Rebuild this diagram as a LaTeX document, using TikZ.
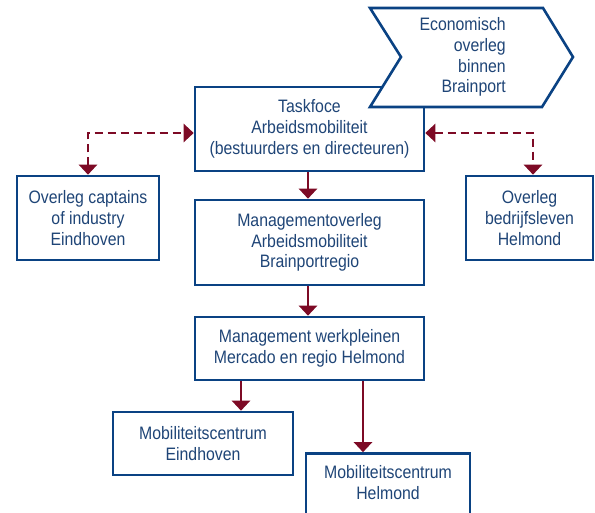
\documentclass[tikz,border=0pt]{standalone}
\usepackage{fontspec}
\setmainfont[FakeStretch=0.88]{Liberation Sans}
\usetikzlibrary{arrows.meta}
\definecolor{bblue}{HTML}{0A4283}
\definecolor{tblue}{HTML}{1F4577}
\definecolor{dred}{HTML}{7D0A25}
\begin{document}
\begin{tikzpicture}[x=1pt,y=-1pt,
  box/.style={draw=bblue,line width=2.6pt,fill=white,rectangle,inner sep=0pt,
    text=tblue,align=center,font=\fontsize{18pt}{20.7pt}\selectfont},
  txt/.style={text=tblue,align=center,inner sep=0pt,font=\fontsize{18pt}{20.7pt}\selectfont},
  arr/.style={draw=dred,line width=2.6pt,-{Triangle[width=18pt,length=10pt]}},
  darr/.style={draw=dred,line width=2.6pt,dash pattern=on 8pt off 5pt,
    {Triangle[width=18pt,length=10pt]}-{Triangle[width=18pt,length=10pt]}}]
\useasboundingbox (0,0) rectangle (595,513);
\node[box,minimum width=229pt,minimum height=84pt] (task) at (309.5,129)
  {Taskfoce\\Arbeidsmobiliteit\\(bestuurders en directeuren)};
\draw[draw=bblue,line width=2.6pt,fill=white,line join=miter]
  (370,8) -- (543,8) -- (573,57) -- (542,107) -- (370,107) -- (401,57) -- cycle;
\node[txt,align=right,anchor=east] (eco) at (506,57)
  {Economisch\\overleg\\binnen\\Brainport};
\node[box,minimum width=229pt,minimum height=85pt] (mgmt) at (309.5,242.5)
  {Managementoverleg\\Arbeidsmobiliteit\\Brainportregio};
\node[box,minimum width=229pt,minimum height=63pt] (werk) at (309.5,348.5)
  {Management werkpleinen\\Mercado en regio Helmond};
\node[box,minimum width=142pt,minimum height=84pt] (capt) at (88,218)
  {Overleg captains\\of industry\\Eindhoven};
\node[box,minimum width=127pt,minimum height=84pt] (bedr) at (529.5,218)
  {Overleg\\bedrijfsleven\\Helmond};
\node[box,minimum width=180pt,minimum height=63pt] (mobE) at (203,443.5)
  {Mobiliteitscentrum\\Eindhoven};
\node[box,minimum width=164pt,minimum height=63pt] (mobH) at (388,485) {};
\node[txt] (mobHt) at (388,482.5) {Mobiliteitscentrum\\Helmond};
\coordinate (hy) at (0,133);
\coordinate (cx) at (308,0);
\coordinate (lx) at (88,0);
\coordinate (rx) at (533,0);
\coordinate (ex) at (241,0);
\coordinate (hx) at (363,0);
\draw[arr] (task.south -| cx) -- (mgmt.north -| cx);
\draw[arr] (mgmt.south -| cx) -- (werk.north -| cx);
\draw[arr] (werk.south -| ex) -- (mobE.north -| ex);
\draw[arr] (werk.south -| hx) -- (mobH.north -| hx);
\draw[darr] (capt.north -| lx) |- (task.west |- hy);
\draw[darr] (task.east |- hy) -| (bedr.north -| rx);
\end{tikzpicture}
\end{document}
